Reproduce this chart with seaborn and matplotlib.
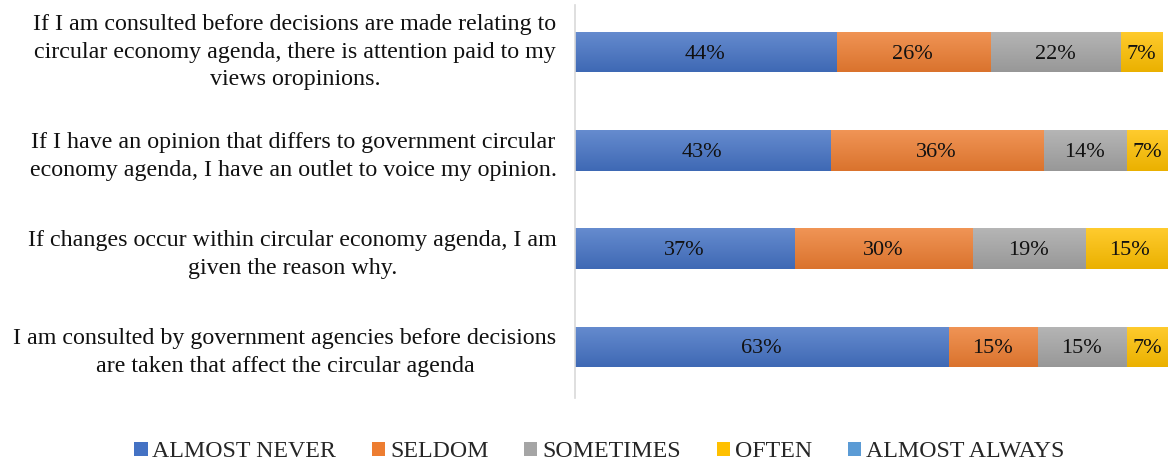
import numpy as np
import pandas as pd
import matplotlib
matplotlib.use("Agg")
import matplotlib.pyplot as plt
import matplotlib.colors as mcolors
import seaborn as sns
from matplotlib.patches import Patch

statements = [
    "If I am consulted before decisions are made relating to\ncircular economy agenda, there is attention paid to my\nviews oropinions.",
    "If I have an opinion that differs to government circular\neconomy agenda, I have an outlet to voice my opinion.",
    "If changes occur within circular economy agenda, I am\ngiven the reason why.",
    "I am consulted by government agencies before decisions\nare taken that affect the circular agenda",
]
series_names = ["ALMOST NEVER", "SELDOM", "SOMETIMES", "OFTEN", "ALMOST ALWAYS"]
almost_never = [44, 43, 37, 63]
seldom = [26, 36, 30, 15]
sometimes = [22, 14, 19, 15]
often = [7, 7, 15, 7]
almost_always = [0, 0, 0, 0]
colors = ["#4472C4", "#ED7D31", "#A5A5A5", "#FFC000", "#5B9BD5"]

sns.set_style("white")
plt.rcParams["font.family"] = ["Liberation Serif", "DejaVu Serif"]

values = np.array([almost_never, seldom, sometimes, often, almost_always], dtype=float) / 100.0
cums = np.cumsum(values, axis=0)

fig = plt.figure(figsize=(11.68, 4.62), dpi=100)
ax = fig.add_axes([0.492, 0.139, 0.508, 0.85])

# overlapping cumulative bars, widest first, give the stacked look
for i in range(len(series_names) - 1, -1, -1):
    df = pd.DataFrame({"statement": statements, "total": cums[i]})
    sns.barplot(data=df, x="total", y="statement", order=statements,
                color=colors[i], saturation=1, width=0.41, ax=ax, orient="h",
                linewidth=0, edgecolor="none")

# soft top-to-bottom shading on each bar segment
for p in list(ax.patches):
    w = p.get_width()
    if w <= 0:
        continue
    base = np.array(mcolors.to_rgb(p.get_facecolor()))
    t = np.linspace(0, 1, 64)[:, None]
    top = base + (1 - base) * 0.18
    bot = base * 0.92
    grad = top * (1 - t) + bot * t
    x0, y0 = p.get_x(), p.get_y()
    h = p.get_height()
    im = ax.imshow(grad[:, None, :], extent=(x0, x0 + w, y0 + h, y0),
                   aspect="auto", interpolation="bilinear", zorder=p.get_zorder())
    im.set_clip_path(p)

for i in range(len(series_names)):
    for j in range(len(statements)):
        v = values[i, j]
        if v <= 0:
            continue
        ax.text(cums[i, j] - v / 2, j + 0.02, f"{v*100:.0f}%", ha="center", va="center",
                fontsize=16, color="#111111", zorder=5)

ax.set_xlim(0, 1.0)
ax.set_ylim(3.52, -0.48)
ax.set_xlabel("")
ax.set_ylabel("")
ax.set_xticks([])
ax.tick_params(axis="y", length=0, pad=13)
for k, lab in enumerate(ax.get_yticklabels()):
    lab.set_fontsize(17.3)
    lab.set_multialignment("center")
    lab.set_linespacing(1.42)
    # three-line label sits centred on its bar; two-line labels keep baseline centring
    lab.set_verticalalignment("center" if statements[k].count("\n") > 1 else "center_baseline")
    lab.set_color("#111111")
for s in ["top", "right", "bottom"]:
    ax.spines[s].set_visible(False)
ax.spines["left"].set_color("#D9D9D9")
ax.spines["left"].set_linewidth(1.2)

handles = [Patch(facecolor=c, edgecolor="none") for c in colors]
fig.legend(handles, series_names, loc="center", bbox_to_anchor=(0.513, 0.022),
           ncol=5, frameon=False, fontsize=17.2, handlelength=0.55, handleheight=0.55,
           handletextpad=0.2, columnspacing=1.5)

fig.savefig("out.png", dpi=100)
